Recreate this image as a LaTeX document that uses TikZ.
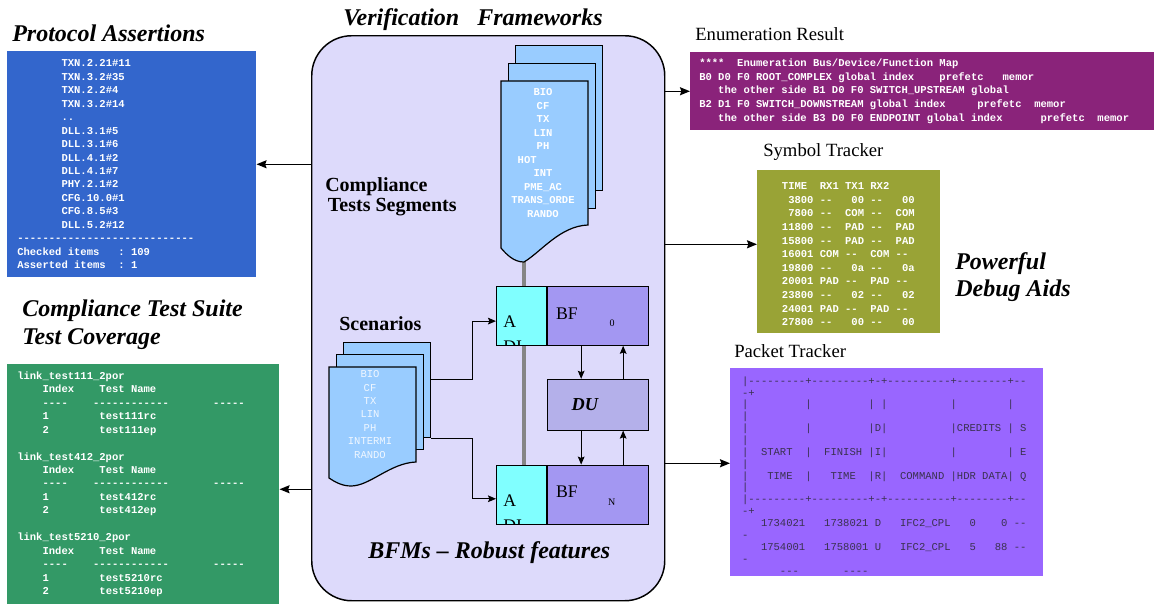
\documentclass[tikz,border=0pt]{standalone}
\usepackage{fontspec}
\setmainfont{Liberation Serif}
\setmonofont{Liberation Mono}
\usepackage{tikz}
\usetikzlibrary{positioning}
\usetikzlibrary{arrows.meta}
\pgfdeclarelayer{vfback}
\pgfdeclarelayer{vfbus}
\pgfsetlayers{vfback,vfbus,main}

\definecolor{frameLav}{HTML}{DDDAFB}
\definecolor{docBlue}{HTML}{99CCFF}
\definecolor{bfCyan}{HTML}{80FFFF}
\definecolor{bfPurple}{HTML}{A397F2}
\definecolor{duGrey}{HTML}{B4B0EA}
\definecolor{protoBlue}{HTML}{3366CC}
\definecolor{covGreen}{HTML}{339966}
\definecolor{enumPlum}{HTML}{8A237A}
\definecolor{symOlive}{HTML}{99A336}
\definecolor{pktViolet}{HTML}{9966FF}
\definecolor{pktInk}{HTML}{3A3150}
\definecolor{busGrey}{HTML}{858585}

\tikzset{
  heading/.style={font=\fontsize{18}{20.5}\selectfont\bfseries\itshape, inner sep=0pt},
  caption/.style={font=\fontsize{14}{16}\selectfont, inner sep=0pt},
  tag/.style={font=\fontsize{15}{15}\selectfont\bfseries, inner sep=0pt},
  infobox/.style={anchor=north west, inner sep=0pt},
  listing/.style={font=\ttfamily\bfseries\fontsize{7.9}{10.1}\selectfont, text=white, align=left, inner sep=0pt},
  doc/.style={draw, fill=docBlue, line width=0.9pt},
  unit/.style={draw, line width=0.6pt, inner sep=0pt, minimum height=44.25pt},
  flow/.style={line width=1.1pt, -{Stealth[length=7.5pt,width=6pt,inset=1pt]}},
  link/.style={line width=0.8pt, -{Stealth[length=6pt,width=5pt,inset=1pt]}},
}

\begin{document}
\begin{tikzpicture}[x=0.75pt, y=-0.75pt]
\useasboundingbox (0,0) rectangle (1154,604);

% Verification frameworks
\begin{pgfonlayer}{vfback}
\node [infobox, draw, line width=1.1pt, fill=frameLav, rounded corners=30pt, minimum width=264.75pt, minimum height=423.75pt] (frame) at (311,35) {};
\end{pgfonlayer}
\node [heading, anchor=base west] (vfTitle) at (343,25) {Verification~~~Frameworks};

\node [doc, infobox, minimum width=65.25pt, minimum height=108.75pt] (segBack) at (515,45) {};
\node [doc, infobox, minimum width=65.25pt, minimum height=108.75pt] (segMid) at (508,63) {};
\draw [doc] (501,81) -- (588,81) -- (588,225) .. controls (560,226) and (541,252) .. (524,262) coordinate (segTip) .. controls (514,262) and (507,255) .. (501,248) -- cycle;
\node [listing, align=center] (segList) at (543,153) {BIO\\CF\\TX\\LIN\\PH\\HOT\phantom{xxxxx}\\INT\\PME\_AC\\TRANS\_ORDE\\RANDO};
\node [tag, anchor=north west, align=left] (segLabel) at (325,177) {Compliance\\\hspace{2pt}Tests Segments};

\node [doc, infobox, minimum width=65.25pt, minimum height=71.25pt] (scnBack) at (343,342) {};
\node [doc, infobox, minimum width=65.25pt, minimum height=71.25pt] (scnMid) at (336,354) {};
\draw [doc] (329,367) -- (416,367) -- (416,462) .. controls (390,463) and (370,486) .. (351,486) .. controls (342,486) and (335,482) .. (329,478) -- cycle;
\node [listing, align=center, font=\ttfamily\fontsize{7.9}{10.1}\selectfont, text=white!85!docBlue] (scnList) at (370,414.5) {BIO\\CF\\TX\\LIN\\PH\\INTERMI\\RANDO};
\node [tag, anchor=base west] (scnLabel) at (339,330.7) {Scenarios};

% BFM units
\node [unit, infobox, fill=bfCyan, minimum width=37.5pt] (A0) at (496,286) {};
\node [unit, fill=bfPurple, minimum width=75.75pt, right=0pt of A0] (BF0) {};
\node [unit, fill=duGrey, minimum width=75.75pt, minimum height=38.25pt, below=24.75pt of BF0] (DU) {};
\node [unit, fill=bfPurple, minimum width=75.75pt, below=25.5pt of DU] (BFN) {};
\node [unit, fill=bfCyan, minimum width=37.5pt, left=0pt of BFN] (AN) {};

\node [font=\fontsize{13.3}{16}\selectfont, inner sep=0pt, right=6.75pt of BF0.west, yshift=1.9pt] (BF0lab) {BF};
\node [font=\fontsize{7.5}{8}\selectfont, inner sep=0pt] (BF0sub) at ([xshift=10.9pt,yshift=-5.6pt]BF0.center) {0};
\node [font=\fontsize{13.3}{16}\selectfont, inner sep=0pt, right=6.75pt of BFN.west, yshift=1.9pt] (BFNlab) {BF};
\node [font=\fontsize{7.5}{8}\selectfont, inner sep=0pt] (BFNsub) at ([xshift=10.5pt,yshift=-6pt]BFN.center) {N};
\node [font=\fontsize{13.7}{16}\selectfont\bfseries\itshape, inner sep=0pt, right=18.5pt of DU.west] (DUlab) {DU};
\begin{scope}
\clip (A0.south west) rectangle (A0.north east);
\node [font=\fontsize{13.3}{18.5}\selectfont, align=left, inner sep=0pt, anchor=north west] (A0lab) at ([xshift=5.25pt,yshift=-22.5pt]A0.north west) {A\\DI};
\end{scope}
\begin{scope}
\clip (AN.south west) rectangle (AN.north east);
\node [font=\fontsize{13.3}{18.5}\selectfont, align=left, inner sep=0pt, anchor=north west] (ANlab) at ([xshift=5.25pt,yshift=-22.5pt]AN.north west) {A\\DI};
\end{scope}

\begin{pgfonlayer}{vfbus}
\draw [line width=2.4pt, busGrey] (segTip) -- (segTip |- AN.north);
\end{pgfonlayer}

\node [heading, anchor=base west] (bfmTitle) at (368,558.3) {BFMs -- Robust features};

% Left boxes
\node [heading, anchor=base west] (protoTitle) at (12,41.7) {Protocol Assertions};
\node [infobox, fill=protoBlue, minimum width=186.75pt, minimum height=169.5pt] (protoBox) at (7,51) {};
\node [listing, right=7.5pt of protoBox.west] (protoList) {%
~~~~~~~TXN.2.21\#11\\
~~~~~~~TXN.3.2\#35\\
~~~~~~~TXN.2.2\#4\\
~~~~~~~TXN.3.2\#14\\
~~~~~~~..\\
~~~~~~~DLL.3.1\#5\\
~~~~~~~DLL.3.1\#6\\
~~~~~~~DLL.4.1\#2\\
~~~~~~~DLL.4.1\#7\\
~~~~~~~PHY.2.1\#2\\
~~~~~~~CFG.10.0\#1\\
~~~~~~~CFG.8.5\#3\\
~~~~~~~DLL.5.2\#12\\
----------------------------\\
Checked~items~~~:~109\\
Asserted~items~~:~1};

\node [heading, anchor=north west, align=left] (covTitle) at (22,300) {Compliance Test Suite\\Test Coverage};
\node [infobox, fill=covGreen, minimum width=204pt, minimum height=180pt] (covBox) at (7,364) {};
\node [listing, right=7.5pt of covBox.west] (covList) {%
link\_test111\_2por\\
~~~~Index~~~~Test~Name\\
~~~~----~~~~------------~~~~~~~-----\\
~~~~1~~~~~~~~test111rc\\
~~~~2~~~~~~~~test111ep\\
~\\
link\_test412\_2por\\
~~~~Index~~~~Test~Name\\
~~~~----~~~~------------~~~~~~~-----\\
~~~~1~~~~~~~~test412rc\\
~~~~2~~~~~~~~test412ep\\
~\\
link\_test5210\_2por\\
~~~~Index~~~~Test~Name\\
~~~~----~~~~------------~~~~~~~-----\\
~~~~1~~~~~~~~test5210rc\\
~~~~2~~~~~~~~test5210ep};

% Right boxes
\node [caption, anchor=base west] (enumTitle) at (695,40) {Enumeration Result};
\node [infobox, fill=enumPlum, minimum width=348pt, minimum height=58.5pt] (enumBox) at (690,52) {};
\node [listing, font=\ttfamily\bfseries\fontsize{7.9}{10.3}\selectfont, right=6.75pt of enumBox.west] (enumList) {%
****~~Enumeration~Bus/Device/Function~Map\\
B0~D0~F0~ROOT\_COMPLEX~global~index~~~~prefetc~~~memor\\
~~~the~other~side~B1~D0~F0~SWITCH\_UPSTREAM~global\\
B2~D1~F0~SWITCH\_DOWNSTREAM~global~index~~~~~prefetc~~memor\\
~~~the~other~side~B3~D0~F0~ENDPOINT~global~index~~~~~~prefetc~~memor};

\node [caption, anchor=base west] (symTitle) at (763,156) {Symbol Tracker};
\node [infobox, fill=symOlive, minimum width=137.25pt, minimum height=122.25pt] (symBox) at (757,170) {};
\node [listing, font=\ttfamily\bfseries\fontsize{7.9}{10.2}\selectfont, right=18.5pt of symBox.west, yshift=-1.9pt] (symList) {%
TIME~~RX1~TX1~RX2\\
~3800~--~~~00~--~~~00\\
~7800~--~~COM~--~~COM\\
11800~--~~PAD~--~~PAD\\
15800~--~~PAD~--~~PAD\\
16001~COM~--~~COM~--\\
19800~--~~~0a~--~~~0a\\
20001~PAD~--~~PAD~--\\
23800~--~~~02~--~~~02\\
24001~PAD~--~~PAD~--\\
27800~--~~~00~--~~~00};
\node [heading, anchor=north west, align=left] (debugTitle) at (955,252) {Powerful\\Debug Aids};

\node [caption, anchor=base west] (pktTitle) at (734,357.3) {Packet Tracker};
\node [infobox, fill=pktViolet, minimum width=234.75pt, minimum height=156pt] (pktBox) at (730,368) {};
\node [listing, font=\ttfamily\fontsize{7.9}{8.9}\selectfont, text=pktInk, right=8.85pt of pktBox.west, yshift=-2.25pt] (pktList) {%
|---------+---------+-+----------+--------+--\\
-+\\
|~~~~~~~~~|~~~~~~~~~|~|~~~~~~~~~~|~~~~~~~~|\\
|\\
|~~~~~~~~~|~~~~~~~~~|D|~~~~~~~~~~|CREDITS~|~S\\
|\\
|~~START~~|~~FINISH~|I|~~~~~~~~~~|~~~~~~~~|~E\\
|\\
|~~~TIME~~|~~~TIME~~|R|~~COMMAND~|HDR~DATA|~Q\\
|\\
|---------+---------+-+----------+--------+--\\
-+\\
~~~1734021~~~1738021~D~~~IFC2\_CPL~~~0~~~~0~--\\
-\\
~~~1754001~~~1758001~U~~~IFC2\_CPL~~~5~~~88~--\\
-\\
~~~~~~---~~~~~~~----};

% Connections
\draw [flow] (protoBox.east -| frame.west) -- (protoBox.east);
\draw [flow] ([yshift=-3.75pt]covBox.east -| frame.west) -- ([yshift=-3.75pt]covBox.east);
\draw [flow] (enumBox.west -| frame.east) -- (enumBox.west);
\draw [flow] ([yshift=5.6pt]symBox.west -| frame.east) -- ([yshift=5.6pt]symBox.west);
\draw [flow] ([yshift=6.75pt]pktBox.west -| frame.east) -- ([yshift=6.75pt]pktBox.west);

\draw [link] ([yshift=8pt]scnBack.east) -- ++(41,0) |- ([yshift=-3.9pt]A0.west);
\draw [link] (scnBack.south east) -- ++(41,0) |- ([yshift=-3.2pt]AN.west);
\draw [link] ([xshift=-12.4pt]BF0.south) -- ([xshift=-12.4pt]DU.north);
\draw [link] ([xshift=19.1pt]DU.north) -- ([xshift=19.1pt]BF0.south);
\draw [link] ([xshift=-12.4pt]DU.south) -- ([xshift=-12.4pt]BFN.north);
\draw [link] ([xshift=19.1pt]BFN.north) -- ([xshift=19.1pt]DU.south);

\end{tikzpicture}
\end{document}
